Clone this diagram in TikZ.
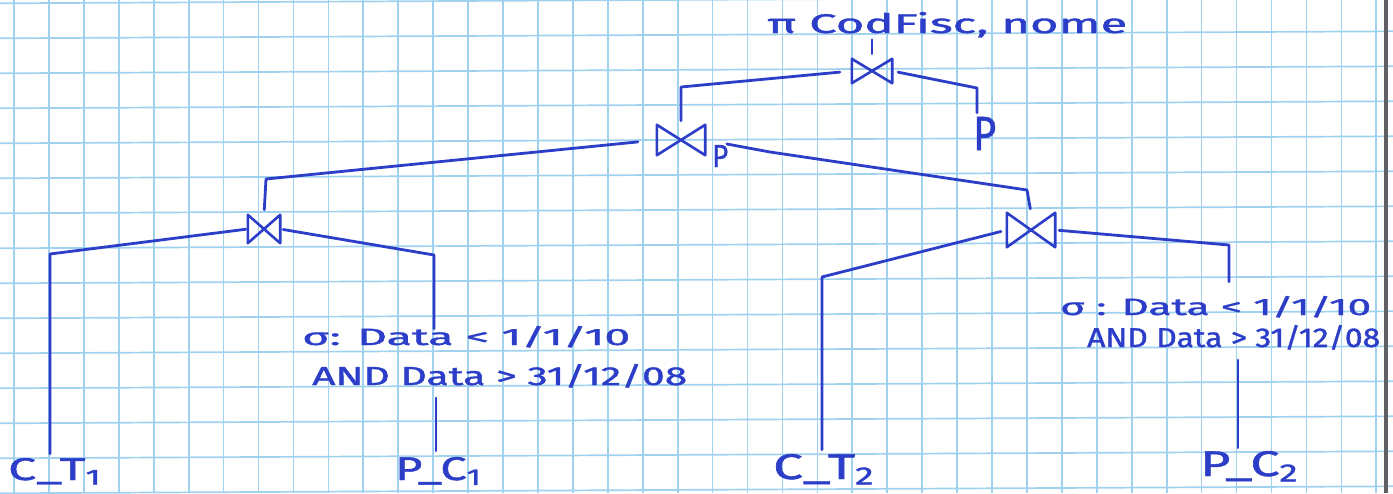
\documentclass[tikz,border=0pt]{standalone}
\usepackage{fontspec}
\setmainfont{Fira Sans}
\newfontfamily\handfont[FakeBold=1.2]{Fira Sans}
\usepackage{graphicx}
\usetikzlibrary{calc}

\definecolor{ink}{RGB}{44,62,200}
\definecolor{gridblue}{RGB}{160,210,240}
\definecolor{paperedge}{RGB}{95,95,100}

% text stretched to a given width and height (in pt)
\newcommand{\inkbox}[3]{\resizebox{#1pt}{#2pt}{\handfont #3}}

\tikzset{
  hand/.style={inner sep=0pt, anchor=base west, text=ink},
  bowtie/.style 2 args={minimum width=#1pt, minimum height=#2pt, inner sep=0pt},
  wire/.style={draw=ink, line width=2.8pt, line cap=round, line join=round},
  gridline/.style={draw=gridblue, line width=1.7pt},
}

\begin{document}
\begin{tikzpicture}[x=1pt, y=-1pt]
  \useasboundingbox (0,0) rectangle (1393,493);
  \clip (0,0) rectangle (1393,493);
  \fill[white] (0,0) rectangle (1393,493);

  % squared paper
  \foreach \k in {0,...,39}
    \draw[gridline] ({14+34.93*\k},0) -- ({14+34.93*\k},493);
  \foreach \k in {0,...,14}
    \draw[gridline] (0,{3.3+35*\k}) -- (1393,{3.3+35*\k-7});
  \draw[paperedge, line width=4pt] (1386,0) -- (1386,493);

  % join operators
  \node[bowtie={40}{24}] (j1) at (872,71)  {};
  \node[bowtie={48}{30}] (j2) at (681,140) {};
  \node[bowtie={32}{28}] (j3) at (264,229) {};
  \node[bowtie={48}{34}] (j4) at (1031,230) {};
  \foreach \n in {j1,j2,j3,j4}
    \draw[wire, line width=2.6pt] (\n.north west) -- (\n.south east)
      -- (\n.north east) -- (\n.south west) -- cycle;

  % labels and leaves
  \node[hand] (proj) at (767,33)  {\inkbox{360}{21}{π CodFisc, nome}};
  \node[hand] (ptop) at (973,150) {\inkbox{23}{33}{P}};
  \node[hand] (psub) at (712,167) {\inkbox{16}{22}{P}};
  \node[hand] (s1a)  at (302,345) {\inkbox{328}{19}{σ: Data < 1/1/10}};
  \node[hand] (s1b)  at (312,385) {\inkbox{375}{21}{AND Data > 31/12/08}};
  \node[hand] (s2a)  at (1060,315) {\inkbox{311}{19}{σ : Data < 1/1/10}};
  \node[hand] (s2b)  at (1087,347) {\inkbox{293}{22}{AND Data > 31/12/08}};
  \node[hand] (ct1)  at (8,480)    {\inkbox{95}{22}{C\_T\textsubscript{1}}};
  \node[hand] (pc1)  at (395,480)  {\inkbox{88}{23}{P\_C\textsubscript{1}}};
  \node[hand] (ct2)  at (773,479)  {\inkbox{103}{25}{C\_T\textsubscript{2}}};
  \node[hand] (pc2)  at (1200,476) {\inkbox{100}{25}{P\_C\textsubscript{2}}};

  % corners of the tree edges
  \coordinate (c1l) at (681,87);
  \coordinate (c1r) at (977,88);
  \coordinate (c2l) at (266,179);
  \coordinate (c2m) at (770,152);
  \coordinate (c2r) at (1027,190);
  \coordinate (c3l) at (50,254);
  \coordinate (c3r) at (434,255);
  \coordinate (c4l) at (822,277);
  \coordinate (c4r) at (1229,245);
  \coordinate (d1)  at (436,0);
  \coordinate (d2)  at (1238,0);

  % tree edges
  \draw[wire, shorten <=2pt, shorten >=5pt] (proj.south -| j1.north) -- (j1.north);
  \draw[wire, shorten <=12pt, shorten >=4pt] (j1.west) -- (c1l) -- (j2.north);
  \draw[wire, shorten <=6pt, shorten >=4pt] (j1.east) -- (c1r) -- (c1r |- ptop.north);
  \draw[wire, shorten <=19pt, shorten >=5pt] (j2.west) -- (c2l) -- (j3.north);
  \draw[wire, shorten <=22pt, shorten >=4pt] (j2.east) -- (c2m) -- (c2r) -- (j4.north);
  \draw[wire, shorten <=2pt, shorten >=4pt] (j3.west) -- (c3l) -- (c3l |- ct1.north);
  \draw[wire, shorten <=3pt, shorten >=-3pt] (j3.east) -- (c3r) -- (c3r |- s1a.north);
  \draw[wire, shorten <=10pt, shorten >=6pt] (d1 |- s1b.south) -- (d1 |- pc1.north);
  \draw[wire, shorten <=6pt, shorten >=4pt] (j4.west) -- (c4l) -- (c4l |- ct2.north);
  \draw[wire, shorten <=4pt, shorten >=14pt] (j4.east) -- (c4r) -- (c4r |- s2a.north);
  \draw[wire, shorten <=10pt, shorten >=3pt] (d2 |- s2b.south) -- (d2 |- pc2.north);
\end{tikzpicture}
\end{document}
